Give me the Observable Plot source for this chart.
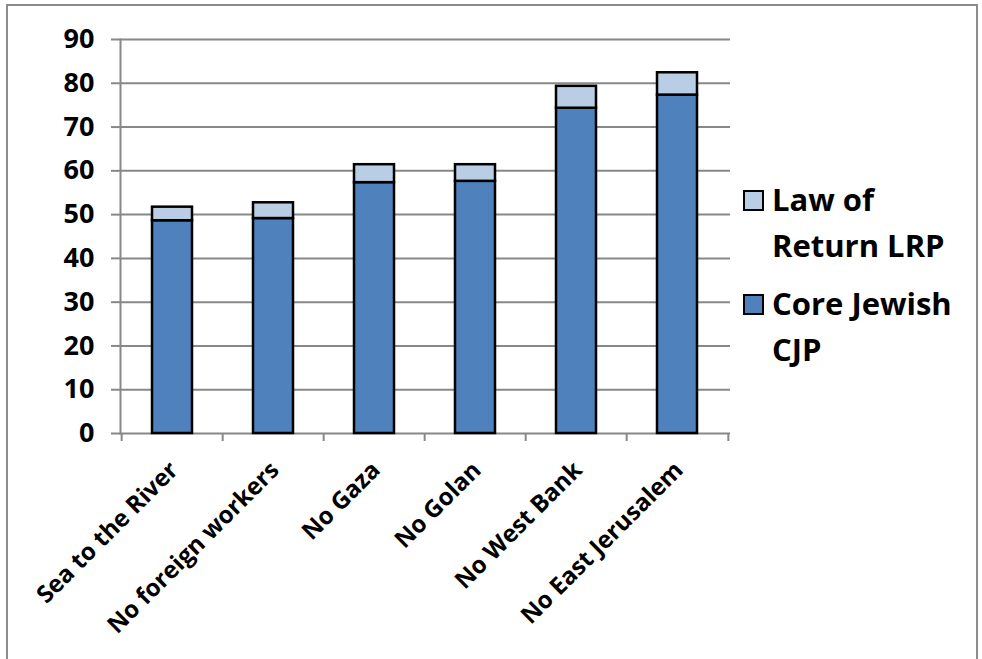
<!DOCTYPE html>
<html>
<head>
<meta charset="utf-8">
<script src="https://cdn.jsdelivr.net/npm/d3@7"></script>
<script src="https://cdn.jsdelivr.net/npm/@observablehq/plot@0.6"></script>
<style>
  html, body { margin: 0; padding: 0; background: #fff; }
  #wrap { position: relative; width: 982px; height: 659px; overflow: hidden; font-family: "Open Sans", sans-serif; }
  #border { position: absolute; left: 6px; top: 4px; width: 972px; height: 680px; border: 2px solid #8c8c8c; box-sizing: border-box; }
  #chart { position: absolute; left: 0; top: 0; }
  .legend { position: absolute; left: 743px; font-weight: 700; font-size: 31px; line-height: 46px; color: #000; }
  .legend .sw { position: absolute; left: 0; width: 17px; height: 17px; border: 2px solid #000; }
  .legend .tx { position: absolute; left: 29px; white-space: nowrap; }
</style>
</head>
<body>
<div id="wrap">
  <div id="border"></div>
  <div id="chart"></div>
</div>
<script>
const categories = ["Sea to the River", "No foreign workers", "No Gaza", "No Golan", "No West Bank", "No East Jerusalem"];
const coreJewish = [48.6, 49.1, 57.3, 57.6, 74.3, 77.3];
const lawOfReturnExtra = [3.1, 3.6, 4.1, 3.8, 5.0, 5.1];
const seriesNames = ["Core Jewish CJP", "Law of Return LRP"];
const seriesColors = ["#4F81BD", "#B9CDE5"];
const yTicks = [0, 10, 20, 30, 40, 50, 60, 70, 80, 90];

const rows = [];
categories.forEach((c, i) => {
  rows.push({cat: c, series: seriesNames[0], value: coreJewish[i]});
  rows.push({cat: c, series: seriesNames[1], value: lawOfReturnExtra[i]});
});

const W = 982, H = 659, mL = 120, mR = 252, mT = 39, mB = 226;
const step = (W - mL - mR) / categories.length;

const chart = Plot.plot({
  width: W, height: H,
  marginLeft: mL, marginRight: mR, marginTop: mT, marginBottom: mB,
  style: {fontFamily: "'Open Sans', sans-serif", fontWeight: 700, fontSize: "27px", color: "#000", background: "transparent", overflow: "visible"},
  x: {domain: categories, paddingInner: 0.6, paddingOuter: 0.3, axis: null},
  y: {domain: [0, 90], axis: null},
  color: {domain: seriesNames, range: seriesColors},
  marks: [
    Plot.ruleY(yTicks, {stroke: "#888", strokeWidth: 2}),
    Plot.frame({anchor: "left", stroke: "#888", strokeWidth: 2}),
    Plot.axisY({ticks: yTicks, tickSize: 9, tickPadding: 17, stroke: "#888", strokeWidth: 2, fill: "#000", label: null, tickFormat: d => String(d)}),
    Plot.axisX({tickSize: 8, stroke: "#888", strokeWidth: 2, fill: "none", label: null, dx: -step / 2, tickFormat: () => ""}),
    Plot.axisX({ticks: [categories[categories.length - 1]], tickSize: 8, stroke: "#888", strokeWidth: 2, fill: "none", label: null, dx: step / 2, tickFormat: () => ""}),
    Plot.barY(rows, {x: "cat", y: "value", fill: "series", stroke: "#000", strokeWidth: 2.5}),
    Plot.text(categories, {x: d => d, frameAnchor: "bottom", text: d => d, rotate: -45, textAnchor: "end", lineAnchor: "bottom", dx: 7, dy: 38, fill: "#000", fontSize: 24})
  ]
});
document.getElementById("chart").appendChild(chart);

// Legend (HTML), built from series arrays, top item = last series
const wrap = document.getElementById("wrap");
const legendItems = [
  {name: seriesNames[1], lines: ["Law of", "Return LRP"], color: seriesColors[1], top: 176},
  {name: seriesNames[0], lines: ["Core Jewish", "CJP"], color: seriesColors[0], top: 280}
];
legendItems.forEach(it => {
  const d = document.createElement("div");
  d.className = "legend";
  d.style.top = it.top + "px";
  const sw = document.createElement("div");
  sw.className = "sw";
  sw.style.background = it.color;
  sw.style.top = "14px";
  d.appendChild(sw);
  it.lines.forEach((ln, j) => {
    const t = document.createElement("div");
    t.className = "tx";
    t.style.top = (j * 46) + "px";
    t.textContent = ln;
    d.appendChild(t);
  });
  wrap.appendChild(d);
});
</script>
</body>
</html>
